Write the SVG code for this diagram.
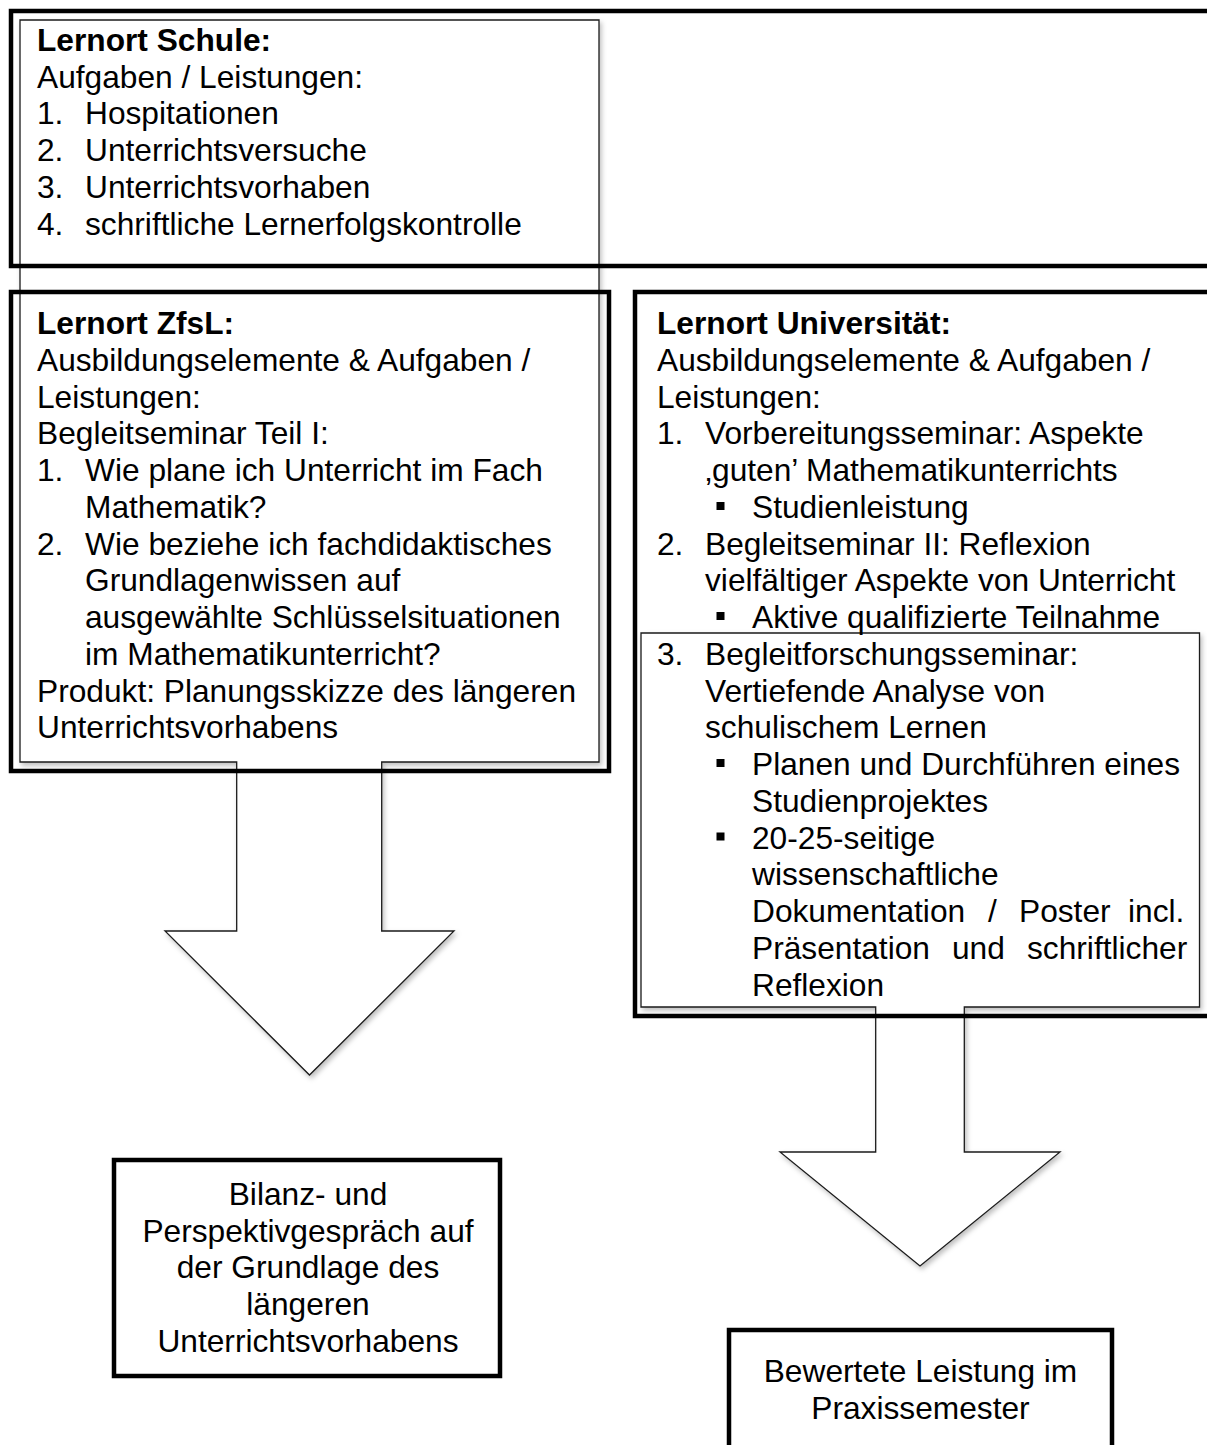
<svg xmlns="http://www.w3.org/2000/svg" width="1207" height="1445" viewBox="0 0 1207 1445">
<style>
text{font-family:"Liberation Sans",Arial,sans-serif;font-size:31.7px;fill:#000}
.b{font-weight:bold}
.c{text-anchor:middle}
.thick{fill:none;stroke:#000;stroke-width:4.5}
.thickw{fill:#fff;stroke:#000;stroke-width:4.5}
.callout{fill:#fff;stroke:#1a1a1a;stroke-width:1.3;filter:url(#sh)}
.bul{fill:#000}
</style>
<defs>
<filter id="sh" x="-10%" y="-10%" width="130%" height="130%">
<feDropShadow dx="2" dy="3" stdDeviation="2.5" flood-color="#000" flood-opacity="0.25"/>
</filter>
</defs>
<rect width="1207" height="1445" fill="#fff"/>
<g id="connectors">
<path id="callout-left" class="callout" d="M20,20 H599 V762 H381.7 V931 H454 L309.5,1075 L165,931 H236.7 V762 H20 Z"/>
<path id="callout-right" class="callout" d="M641,633 H1199.5 V1007 H964.3 V1152 H1060 L920,1266 L780,1152 H875.7 V1007 H641 Z"/>
</g>
<g id="node-schule">
<rect class="thick" x="11" y="11" width="1210" height="255"/>
<text x="37" y="51" class="b">Lernort Schule:</text>
<text x="37" y="87.7">Aufgaben / Leistungen:</text>
<text x="37" y="124.4">1.</text><text x="85" y="124.4">Hospitationen</text>
<text x="37" y="161.1">2.</text><text x="85" y="161.1">Unterrichtsversuche</text>
<text x="37" y="197.8">3.</text><text x="85" y="197.8">Unterrichtsvorhaben</text>
<text x="37" y="234.5">4.</text><text x="85" y="234.5">schriftliche Lernerfolgskontrolle</text>
</g>
<g id="node-zfsl">
<rect class="thick" x="11" y="292" width="598" height="479"/>
<text x="37" y="334" class="b">Lernort ZfsL:</text>
<text x="37" y="370.75">Ausbildungselemente &amp; Aufgaben /</text>
<text x="37" y="407.5">Leistungen:</text>
<text x="37" y="444.25">Begleitseminar Teil I:</text>
<text x="37" y="481">1.</text><text x="85" y="481">Wie plane ich Unterricht im Fach</text>
<text x="85" y="517.75">Mathematik?</text>
<text x="37" y="554.5">2.</text><text x="85" y="554.5">Wie beziehe ich fachdidaktisches</text>
<text x="85" y="591.25">Grundlagenwissen auf</text>
<text x="85" y="628">ausgewählte Schlüsselsituationen</text>
<text x="85" y="664.75">im Mathematikunterricht?</text>
<text x="37" y="701.5">Produkt: Planungsskizze des längeren</text>
<text x="37" y="738.25">Unterrichtsvorhabens</text>
</g>
<g id="node-universitaet">
<rect class="thick" x="635" y="292" width="580" height="724"/>
<text x="657" y="334" class="b">Lernort Universität:</text>
<text x="657" y="370.75">Ausbildungselemente &amp; Aufgaben /</text>
<text x="657" y="407.5">Leistungen:</text>
<text x="657" y="444.25">1.</text><text x="705" y="444.25">Vorbereitungsseminar: Aspekte</text>
<text x="705" y="481">‚guten’ Mathematikunterrichts</text>
<rect class="bul" x="716.5" y="502" width="8" height="8"/><text x="752" y="517.75">Studienleistung</text>
<text x="657" y="554.5">2.</text><text x="705" y="554.5">Begleitseminar II: Reflexion</text>
<text x="705" y="591.25">vielfältiger Aspekte von Unterricht</text>
<rect class="bul" x="716.5" y="612" width="8" height="8"/><text x="752" y="628">Aktive qualifizierte Teilnahme</text>
<text x="657" y="664.75">3.</text><text x="705" y="664.75">Begleitforschungsseminar:</text>
<text x="705" y="701.5">Vertiefende Analyse von</text>
<text x="705" y="738.25">schulischem Lernen</text>
<rect class="bul" x="716.5" y="759" width="8" height="8"/><text x="752" y="775">Planen und Durchführen eines</text>
<text x="752" y="811.75">Studienprojektes</text>
<rect class="bul" x="716.5" y="832.5" width="8" height="8"/><text x="752" y="848.5">20-25-seitige</text>
<text x="752" y="885.25">wissenschaftliche</text>
<text y="922"><tspan x="752">Dokumentation</tspan><tspan x="988">/</tspan><tspan x="1019">Poster</tspan><tspan x="1128">incl.</tspan></text>
<text y="958.75"><tspan x="752">Präsentation</tspan><tspan x="952">und</tspan><tspan x="1027">schriftlicher</tspan></text>
<text x="752" y="995.5">Reflexion</text>
</g>
<g id="node-bilanz">
<rect class="thickw" x="114" y="1160" width="386" height="216"/>
<text x="308" y="1205" class="c">Bilanz- und</text>
<text x="308" y="1241.7" class="c">Perspektivgespräch auf</text>
<text x="308" y="1278.4" class="c">der Grundlage des</text>
<text x="308" y="1315.1" class="c">längeren</text>
<text x="308" y="1351.8" class="c">Unterrichtsvorhabens</text>
</g>
<g id="node-bewertet">
<rect class="thickw" x="729" y="1330" width="383" height="140"/>
<text x="920.5" y="1382" class="c">Bewertete Leistung im</text>
<text x="920.5" y="1419" class="c">Praxissemester</text>
</g>
</svg>
